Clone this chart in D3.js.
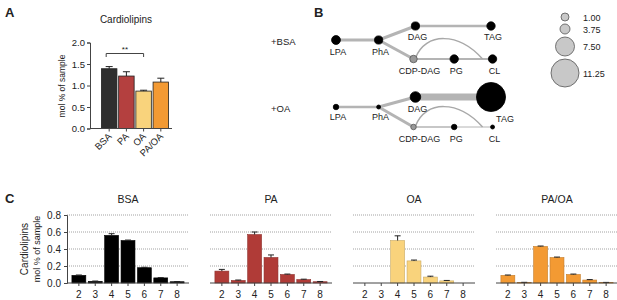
<!DOCTYPE html>
<html>
<head>
<meta charset="utf-8">
<script src="https://cdn.jsdelivr.net/npm/d3@7/dist/d3.min.js"></script>
<style>
  body { margin: 0; background: #fff; }
  text { font-family: "Liberation Sans", Arial, sans-serif; fill: #222; }
</style>
</head>
<body>
<div id="main"></div>
<script>
const w = 617, h = 300;

// panel A: total cardiolipins
const groups = ['BSA', 'PA', 'OA', 'PA/OA'];
const totalCL = [1.39, 1.22, 0.87, 1.08];
const totalErr = [0.05, 0.10, 0.02, 0.09];
const barColorsA = ['#2f2f2f', '#b4403f', '#f9d37c', '#f39a33'];
const yTicksA = [0, 0.5, 1.0, 1.5, 2.0];

// panel B: pathway nodes (size = value)
const nodeNames = ['LPA', 'PhA', 'DAG', 'TAG', 'CDP-DAG', 'PG', 'CL'];
const bsaNodes = [2.2, 1.3, 1.3, 1.5, 0.9, 1.5, 1.5];
const oaNodes = [0.5, 0.2, 4.0, 11.7, 0.5, 0.5, 0.2];
const edgeList = [['LPA', 'PhA'], ['PhA', 'DAG'], ['DAG', 'TAG'], ['PhA', 'CDP-DAG'], ['CDP-DAG', 'PG'], ['PG', 'CL']];
const bsaEdges = [3, 3, 2.5, 3, 2, 2];
const oaEdges = [2.5, 3, 7, 3, 1.5, 1];
const legendValues = [1.00, 3.75, 7.50, 11.25];

// panel C: cardiolipin species
const species = ['2', '3', '4', '5', '6', '7', '8'];
const bsaCL = [0.09, 0.02, 0.56, 0.50, 0.18, 0.06, 0.015];
const bsaErr = [0.004, 0.003, 0.02, 0.005, 0.005, 0.003, 0.002];
const paCL = [0.14, 0.03, 0.57, 0.30, 0.10, 0.04, 0.015];
const paErr = [0.02, 0.005, 0.03, 0.03, 0.005, 0.005, 0.003];
const oaCL = [0, 0, 0.50, 0.26, 0.07, 0.025, 0];
const oaErr = [0, 0, 0.055, 0.01, 0.01, 0.005, 0];
const paoaCL = [0.09, 0.005, 0.43, 0.30, 0.10, 0.035, 0.005];
const paoaErr = [0.004, 0.003, 0.005, 0.005, 0.005, 0.005, 0.002];
const yTicksC = [0, 0.2, 0.4, 0.6, 0.8];

const font = '"Liberation Sans", Arial, sans-serif';

const svg = d3.select('#main')
  .append('svg')
  .attr('width', w)
  .attr('height', h);

const panelLabel = (t, x, y) => svg.append('text').text(t)
  .attr('x', x).attr('y', y)
  .attr('font-size', 13).attr('font-weight', 'bold');

// ---------- A ----------
panelLabel('A', 5, 17);

const xA = d3.scaleBand().domain(groups).range([98, 172]).paddingInner(0.1).paddingOuter(0.2);
const yA = d3.scaleLinear().domain([0, 2]).range([128.5, 42.5]);

svg.append('text').text('Cardiolipins')
  .attr('x', 126).attr('y', 23)
  .attr('text-anchor', 'middle').attr('font-size', 10);

const gA = svg.append('g');
gA.selectAll('rect').data(groups).enter().append('rect')
  .attr('x', d => xA(d))
  .attr('y', (d, i) => yA(totalCL[i]))
  .attr('width', xA.bandwidth())
  .attr('height', (d, i) => yA(0) - yA(totalCL[i]))
  .attr('fill', (d, i) => barColorsA[i])
  .attr('stroke', '#222').attr('stroke-width', 0.8);

gA.selectAll('.err').data(groups).enter().append('path')
  .attr('d', (d, i) => {
    const cx = xA(d) + xA.bandwidth() / 2;
    const y0 = yA(totalCL[i]), y1 = yA(totalCL[i] + totalErr[i]);
    return `M${cx},${y0}V${y1}M${cx - 3.5},${y1}H${cx + 3.5}`;
  })
  .attr('stroke', '#222').attr('stroke-width', 1).attr('fill', 'none');

svg.append('g')
  .attr('transform', 'translate(90,0)')
  .call(d3.axisLeft(yA).tickValues(yTicksA).tickFormat(d3.format('.1f')).tickSize(3).tickPadding(2))
  .call(g => g.selectAll('text').attr('font-size', 9.5).attr('font-family', font).attr('fill', '#222'))
  .call(g => g.selectAll('line,path').attr('stroke', '#444'));

svg.append('g')
  .attr('transform', 'translate(0,128.5)')
  .call(d3.axisBottom(xA).tickSize(3).tickSizeOuter(0).tickFormat(''))
  .call(g => g.select('.domain').attr('d', 'M90,0H172'))
  .call(g => g.selectAll('line,path').attr('stroke', '#444'));

svg.append('g').selectAll('text').data(groups).enter().append('text')
  .text(d => d)
  .attr('text-anchor', 'end')
  .attr('font-size', 9.5)
  .attr('transform', d => `translate(${xA(d) + xA.bandwidth() / 2 + 3},137) rotate(-45)`);

svg.append('text').text('mol % of sample')
  .attr('transform', 'translate(65,86) rotate(-90)')
  .attr('text-anchor', 'middle').attr('font-size', 8.5);

// significance bracket BSA vs OA
const bx0 = xA('BSA') + xA.bandwidth() / 2 - 3, bx1 = xA('OA') + xA.bandwidth() / 2;
svg.append('path')
  .attr('d', `M${bx0},57V53.5H${bx1}V57`)
  .attr('stroke', '#444').attr('fill', 'none').attr('stroke-width', 1);
svg.append('text').text('**')
  .attr('x', (bx0 + bx1) / 2).attr('y', 52)
  .attr('text-anchor', 'middle').attr('font-size', 8);

// ---------- B ----------
panelLabel('B', 314, 17);

const rScale = d3.scaleLinear().domain([0, 1, 3.75, 7.5, 11.25]).range([1.5, 4, 5, 9.5, 14]);
const colX = d3.scaleLinear().domain([0, 4]).range([336, 491]);
const nodeCol = [0, 1.1, 2.05, 4, 2.0, 3.05, 4.04];
const nodeRow = [1, 1, 0, 0, 2, 2, 2];

function network(vals, widths, rows, labelDy, title) {
  const g = svg.append('g');
  const pos = {};
  nodeNames.forEach((n, i) => pos[n] = [colX(nodeCol[i]), rows[nodeRow[i]]]);

  g.append('text').text(title)
    .attr('x', 271).attr('y', rows[1] + 5)
    .attr('font-size', 9.5);

  edgeList.forEach((e, i) => {
    g.append('line')
      .attr('x1', pos[e[0]][0]).attr('y1', pos[e[0]][1])
      .attr('x2', pos[e[1]][0]).attr('y2', pos[e[1]][1])
      .attr('stroke', '#b4b4b4').attr('stroke-width', widths[i]);
  });

  // CDP-DAG -> CL arc
  const [ax, ay] = pos['CDP-DAG'];
  const ex = pos['CL'][0] - 10;
  const p = d3.path();
  p.moveTo(ax + 2, ay - 1);
  p.bezierCurveTo(ax + 12, ay - 27, ex - 24, ay - 27, ex, ay);
  g.append('path').attr('d', p.toString())
    .attr('fill', 'none').attr('stroke', '#a8a8a8').attr('stroke-width', 1.5);

  nodeNames.forEach((n, i) => {
    g.append('circle')
      .attr('cx', pos[n][0]).attr('cy', pos[n][1])
      .attr('r', rScale(vals[i]))
      .attr('fill', n === 'CDP-DAG' ? '#999' : '#000')
      .attr('stroke', n === 'CDP-DAG' ? '#555' : '#000')
      .attr('stroke-width', 0.8);
  });

  nodeNames.forEach((n, i) => {
    const big = rScale(vals[i]) > 10;
    g.append('text').text(n)
      .attr('x', pos[n][0] + (big ? 14 : (n === 'CDP-DAG' ? 6 : 2)))
      .attr('y', pos[n][1] + (big ? 25 : labelDy[nodeRow[i]]))
      .attr('text-anchor', 'middle').attr('font-size', 9);
  });
}

network(bsaNodes, bsaEdges, [26, 40, 59], [14, 15, 15], '+BSA');
network(oaNodes, oaEdges, [97, 107, 127], [15, 13, 15], '+OA');

// size legend
let ly = 17;
legendValues.forEach((v, i) => {
  const r = rScale(v);
  if (i > 0) ly += rScale(legendValues[i - 1]) + r + 3;
  svg.append('circle')
    .attr('cx', 565).attr('cy', ly).attr('r', r)
    .attr('fill', '#c8c8c8').attr('stroke', '#555').attr('stroke-width', 0.8);
  svg.append('text').text(v.toFixed(2))
    .attr('x', 583).attr('y', ly + 3.5)
    .attr('font-size', 9);
});

// ---------- C ----------
panelLabel('C', 5, 203);

const yC = d3.scaleLinear().domain([0, 0.8]).range([283, 215]);
const subplots = [
  { name: 'BSA', vals: bsaCL, err: bsaErr, color: '#000' },
  { name: 'PA', vals: paCL, err: paErr, color: '#b03b37' },
  { name: 'OA', vals: oaCL, err: oaErr, color: '#f9d37c' },
  { name: 'PA/OA', vals: paoaCL, err: paoaErr, color: '#f39a33' }
];

subplots.forEach((s, k) => {
  const x0 = 67 + k * 143, x1 = x0 + 122;
  const x = d3.scaleBand().domain(species).range([x0, x1]).paddingInner(0.15).paddingOuter(0.3);
  const g = svg.append('g');

  g.append('text').text(s.name)
    .attr('x', (x0 + x1) / 2).attr('y', 203)
    .attr('text-anchor', 'middle').attr('font-size', 10.5);

  g.selectAll('.grid').data(yTicksC.slice(1)).enter().append('line')
    .attr('x1', x0).attr('x2', x1)
    .attr('y1', d => yC(d)).attr('y2', d => yC(d))
    .attr('stroke', '#8a8a8a').attr('stroke-width', 0.8).attr('stroke-dasharray', '1,1');

  g.selectAll('rect').data(species).enter().append('rect')
    .attr('x', d => x(d))
    .attr('y', (d, i) => yC(s.vals[i]))
    .attr('width', x.bandwidth())
    .attr('height', (d, i) => yC(0) - yC(s.vals[i]))
    .attr('fill', s.color)
    .attr('stroke', k === 0 ? '#000' : d3.color(s.color).darker(0.6))
    .attr('stroke-width', 0.6);

  g.selectAll('.err').data(species).enter().append('path')
    .attr('d', (d, i) => {
      if (!s.vals[i]) return null;
      const cx = x(d) + x.bandwidth() / 2;
      const y0 = yC(s.vals[i]), y1 = yC(s.vals[i] + s.err[i]);
      return `M${cx},${y0}V${y1}M${cx - 3},${y1}H${cx + 3}`;
    })
    .attr('stroke', '#222').attr('stroke-width', 1).attr('fill', 'none');

  svg.append('g')
    .attr('transform', `translate(0,${yC(0)})`)
    .call(d3.axisBottom(x).tickSize(3).tickSizeOuter(0).tickPadding(5))
    .call(g => g.select('.domain').attr('d', `M${x0},0H${x1}`))
    .call(g => g.selectAll('line,path').attr('stroke', '#444'))
    .call(g => g.selectAll('text').attr('font-size', 10).attr('font-family', font).attr('fill', '#222'));

  if (k === 0) {
    svg.append('g')
      .attr('transform', `translate(${x0},0)`)
      .call(d3.axisLeft(yC).tickValues(yTicksC).tickFormat(d3.format('.1f')).tickSize(3).tickPadding(3))
      .call(g => g.selectAll('line,path').attr('stroke', '#444'))
      .call(g => g.selectAll('text').attr('font-size', 10).attr('font-family', font).attr('fill', '#222'));
  }
});

svg.append('text').text('Cardiolipins')
  .attr('transform', 'translate(28,249) rotate(-90)')
  .attr('text-anchor', 'middle').attr('font-size', 10);
svg.append('text').text('mol % of sample')
  .attr('transform', 'translate(40,249) rotate(-90)')
  .attr('text-anchor', 'middle').attr('font-size', 9);
</script>
</body>
</html>
